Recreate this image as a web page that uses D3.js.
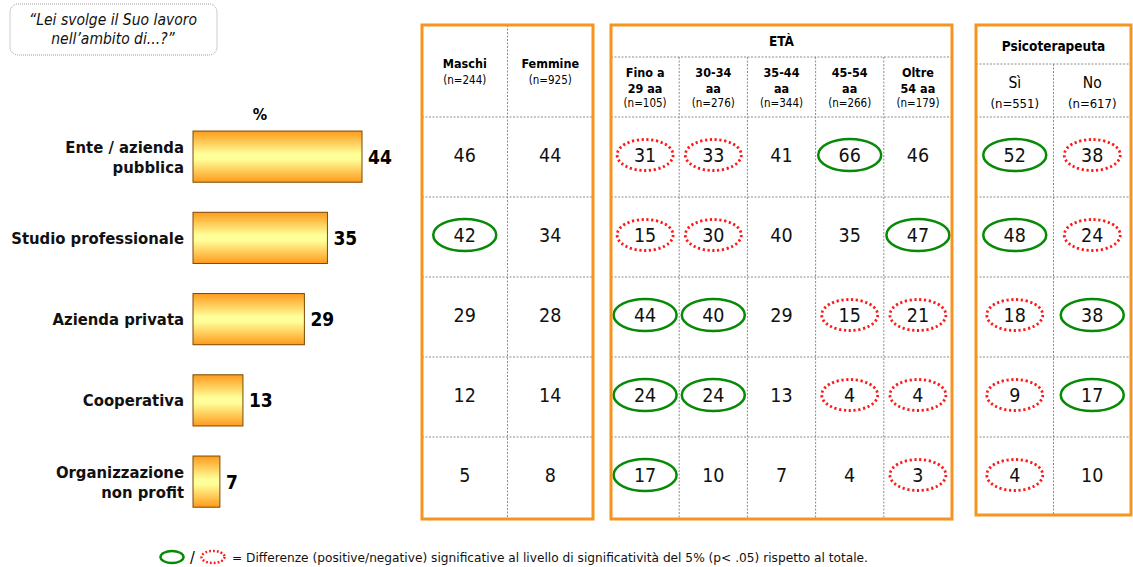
<!DOCTYPE html>
<html><head><meta charset="utf-8">
<script src="https://cdn.jsdelivr.net/npm/d3@7"></script>
<style>
body{margin:0;background:#fff;}
svg{display:block;font-family:"DejaVu Sans Condensed","DejaVu Sans",sans-serif;}
</style></head>
<body>
<svg id="c" width="1133" height="567"></svg>
<script>
// ---------- DATA ----------
const categories = ["Ente / azienda pubblica","Studio professionale","Azienda privata","Cooperativa","Organizzazione non profit"];
const categoryLines = [["Ente / azienda","pubblica"],["Studio professionale"],["Azienda privata"],["Cooperativa"],["Organizzazione","non profit"]];
const totals = [44,35,29,13,7];

const genderCols = ["Maschi","Femmine"];
const genderN = ["(n=244)","(n=925)"];
const maschi = [46,42,29,12,5];
const femmine = [44,34,28,14,8];
const sigMaschi = [0,1,0,0,0];
const sigFemmine = [0,0,0,0,0];

const ageTitle = "ETÀ";
const ageCols = [["Fino a","29 aa"],["30-34","aa"],["35-44","aa"],["45-54","aa"],["Oltre","54 aa"]];
const ageN = ["(n=105)","(n=276)","(n=344)","(n=266)","(n=179)"];
const age29 = [31,15,44,24,17];
const age3034 = [33,30,40,24,10];
const age3544 = [41,40,29,13,7];
const age4554 = [66,35,15,4,4];
const age54 = [46,47,21,4,3];
const sigAge29 = [-1,-1,1,1,1];
const sigAge3034 = [-1,-1,1,1,0];
const sigAge3544 = [0,0,0,0,0];
const sigAge4554 = [1,0,-1,-1,0];
const sigAge54 = [0,1,-1,-1,-1];

const psyTitle = "Psicoterapeuta";
const psyCols = ["Sì","No"];
const psyN = ["(n=551)","(n=617)"];
const psySi = [52,48,18,9,4];
const psyNo = [38,24,38,17,10];
const sigPsySi = [1,1,-1,-1,-1];
const sigPsyNo = [-1,-1,1,1,0];

const question = ["\u201CLei svolge il Suo lavoro","nell\u2019ambito di...?\u201D"];
const unitLabel = "%";
const footnote = "= Differenze (positive/negative) significative al livello di significatività del 5% (p< .05) rispetto al totale.";

// ---------- DRAW ----------
const svg = d3.select("#c");
const ORANGE = "#F7941D", GREEN = "#078a07", RED = "#ff1a1a", GRID = "#8c8c8c";

const defs = svg.append("defs");
const g = defs.append("linearGradient").attr("id","barGrad").attr("x1",0).attr("y1",0).attr("x2",0).attr("y2",1);
g.append("stop").attr("offset","0%").attr("stop-color","#ff9a1c");
g.append("stop").attr("offset","45%").attr("stop-color","#ffff99");
g.append("stop").attr("offset","55%").attr("stop-color","#ffff99");
g.append("stop").attr("offset","100%").attr("stop-color","#ff9a1c");

// question box
svg.append("rect").attr("x",10).attr("y",4).attr("width",207).attr("height",51).attr("rx",8)
  .attr("fill","#fff").attr("stroke","#9a9a9a").attr("stroke-width",1).attr("stroke-dasharray","1,1");
svg.selectAll("text.q").data(question).join("text").attr("class","q")
  .attr("x",113).attr("y",(d,i)=>25+i*19).attr("text-anchor","middle")
  .attr("font-size",15.5).attr("font-style","italic").attr("fill","#111").text(d=>d);

// bar chart
const x = d3.scaleLinear().domain([0,44]).range([193,362]);
const yBar = d3.scaleBand().domain(categories).range([116,522.25]).paddingInner(0.37).paddingOuter(0.185);
svg.append("text").attr("x",260).attr("y",120).attr("text-anchor","middle")
  .attr("font-size",16).attr("font-weight","bold").text(unitLabel);

const bars = svg.append("g");
bars.selectAll("rect").data(totals).join("rect")
  .attr("x",x(0)).attr("y",(d,i)=>yBar(categories[i]))
  .attr("width",d=>x(d)-x(0)).attr("height",yBar.bandwidth())
  .attr("fill","url(#barGrad)").attr("stroke","#7a4a00").attr("stroke-width",1);
bars.selectAll("text.v").data(totals).join("text").attr("class","v")
  .attr("x",d=>x(d)+6).attr("y",(d,i)=>yBar(categories[i])+yBar.bandwidth()/2+7)
  .attr("font-size",19).attr("font-weight","bold").text(d=>d);
const labs = bars.selectAll("text.l").data(categoryLines).join("text").attr("class","l")
  .attr("text-anchor","end").attr("font-size",16.5).attr("font-weight","bold").attr("fill","#111");
labs.each(function(lines,i){
  const cy = yBar(categories[i])+yBar.bandwidth()/2;
  const n = lines.length;
  d3.select(this).selectAll("tspan").data(lines).join("tspan")
    .attr("x",184).attr("y",(d,j)=>cy+6+(j-(n-1)/2)*20).text(d=>d);
});

// tables
const yRow = d3.scaleBand().domain(categories).range([117,517]);

function drawTable(opt){
  const tg = svg.append("g");
  const xc = d3.scaleBand().domain(opt.cols.map((c,i)=>i)).range([opt.x0,opt.x1]);
  const dash = "2,1.5";
  tg.selectAll("line.r").data(categories).join("line").attr("class","r")
    .attr("x1",opt.x0).attr("x2",opt.x1).attr("y1",d=>yRow(d)).attr("y2",d=>yRow(d))
    .attr("stroke",GRID).attr("stroke-dasharray",dash);
  if(opt.titleLineY){
    tg.append("line").attr("x1",opt.x0).attr("x2",opt.x1).attr("y1",opt.titleLineY).attr("y2",opt.titleLineY)
      .attr("stroke",GRID).attr("stroke-dasharray",dash);
    tg.append("text").attr("x",(opt.x0+opt.x1)/2).attr("y",opt.titleY).attr("text-anchor","middle")
      .attr("font-size",13.5).attr("font-weight","bold").text(opt.title);
  }
  tg.selectAll("line.c").data(opt.cols.slice(1)).join("line").attr("class","c")
    .attr("x1",(d,i)=>xc(i+1)).attr("x2",(d,i)=>xc(i+1))
    .attr("y1",opt.titleLineY||opt.top).attr("y2",opt.bottom)
    .attr("stroke",GRID).attr("stroke-dasharray",dash);
  opt.cols.forEach((c,i)=>{
    const cx = xc(i)+xc.bandwidth()/2;
    const lines = Array.isArray(c)?c:[c];
    const t = tg.append("text").attr("text-anchor","middle");
    lines.forEach((ln,j)=>{
      t.append("tspan").attr("x",cx).attr("y",opt.headY+j*15.5)
        .attr("font-size",opt.headSize).attr("font-weight",opt.headWeight||"bold").text(ln);
    });
    t.append("tspan").attr("x",cx).attr("y",opt.headY+lines.length*15.5-(lines.length>1?1.5:0)+opt.nGap)
      .attr("font-size",opt.nSize).text(opt.n[i]);
  });
  opt.values.forEach((vals,i)=>{
    const cx = xc(i)+xc.bandwidth()/2;
    vals.forEach((v,r)=>{
      const cy = yRow(categories[r])+yRow.bandwidth()/2-2;
      const s = opt.sig[i][r];
      if(s===1){
        tg.append("ellipse").attr("cx",cx).attr("cy",cy).attr("rx",31.5).attr("ry",16)
          .attr("fill","none").attr("stroke",GREEN).attr("stroke-width",2.5);
      } else if(s===-1){
        tg.append("ellipse").attr("cx",cx).attr("cy",cy).attr("rx",28).attr("ry",15.5)
          .attr("fill","none").attr("stroke",RED).attr("stroke-width",2.8)
          .attr("stroke-dasharray","2.2,2.6");
      }
      tg.append("text").attr("x",cx).attr("y",cy+7).attr("text-anchor","middle")
        .attr("font-size",19.5).attr("fill","#111").text(v);
    });
  });
  tg.append("rect").attr("x",opt.x0).attr("y",opt.top).attr("width",opt.x1-opt.x0).attr("height",opt.bottom-opt.top)
    .attr("fill","none").attr("stroke",ORANGE).attr("stroke-width",3);
}

drawTable({x0:422,x1:593,top:25,bottom:519,cols:genderCols,n:genderN,headY:68,headSize:12.5,nSize:11.5,nGap:0,
  values:[maschi,femmine],sig:[sigMaschi,sigFemmine]});
drawTable({x0:611,x1:952,top:25,bottom:519,cols:ageCols,n:ageN,headY:77,headSize:12.5,nSize:11.5,nGap:0,
  title:ageTitle,titleY:46,titleLineY:57,
  values:[age29,age3034,age3544,age4554,age54],sig:[sigAge29,sigAge3034,sigAge3544,sigAge4554,sigAge54]});
drawTable({x0:976,x1:1131,top:25,bottom:515,cols:psyCols,n:psyN,headY:88,headSize:15.5,headWeight:"normal",nSize:13,nGap:4,
  title:psyTitle,titleY:51,titleLineY:64,
  values:[psySi,psyNo],sig:[sigPsySi,sigPsyNo]});

// footnote
const fy = 557;
svg.append("ellipse").attr("cx",172).attr("cy",fy).attr("rx",11.5).attr("ry",6)
  .attr("fill","none").attr("stroke",GREEN).attr("stroke-width",2.5);
svg.append("text").attr("x",190).attr("y",fy+6).attr("font-size",16).text("/");
svg.append("ellipse").attr("cx",213).attr("cy",fy).attr("rx",11.5).attr("ry",6)
  .attr("fill","none").attr("stroke",RED).attr("stroke-width",2.5).attr("stroke-dasharray","1.8,2");
svg.append("text").attr("x",232).attr("y",fy+4.5).attr("font-size",12.5).attr("fill","#111")
  .attr("textLength",636).attr("lengthAdjust","spacingAndGlyphs").text(footnote);
</script>
</body></html>
